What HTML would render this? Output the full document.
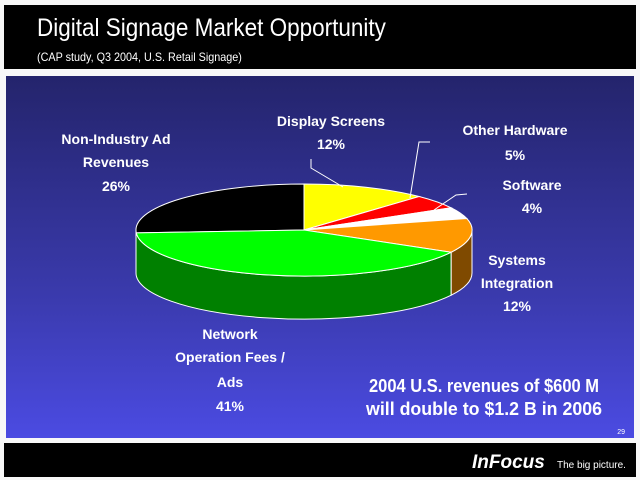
<!DOCTYPE html>
<html><head><meta charset="utf-8"><style>
body{margin:0;width:640px;height:480px;background:#f8f8f8;position:relative;overflow:hidden;font-family:"Liberation Sans",Arial,sans-serif}
.hdr{position:absolute;left:4px;top:5px;width:632px;height:64px;background:#000}
.ttl{position:absolute;left:37px;top:14px;color:#fff;font-size:25px;transform:scaleX(0.9);transform-origin:left}
.sub{position:absolute;left:37px;top:50px;color:#fff;font-size:12px;transform:scaleX(0.9);transform-origin:left}
.panel{position:absolute;left:6px;top:76px;width:628px;height:362px;background:linear-gradient(#24246c,#3a3aac 60%,#4b4be2)}
.ftr{position:absolute;left:4px;top:443px;width:632px;height:34px;background:#000}
svg{position:absolute;left:0;top:0}
.l{font-weight:bold;font-size:14px;fill:#fff;text-anchor:middle}
</style></head><body>
<div class="hdr"></div>
<div class="ttl">Digital Signage Market Opportunity</div>
<div class="sub">(CAP study, Q3 2004, U.S. Retail Signage)</div>
<div class="panel"></div>
<div class="ftr"></div>
<svg width="640" height="480" viewBox="0 0 640 480">
<g stroke="#fff" stroke-width="1">
<path d="M451.2,252.2 A168 46 0 0 1 136,230 L136,273 A168 46 0 0 0 451.2,295.2 Z" fill="#008000"/>
<path d="M472,230 A168 46 0 0 1 451.2,252.2 L451.2,295.2 A168 46 0 0 0 472,273 Z" fill="#7f4a00"/>
<path d="M304,230 L136.3,232.9 A168 46 0 0 1 304,184 Z" fill="#000"/>
<path d="M304,230 L304,184 A168 46 0 0 1 419.1,196.5 Z" fill="#ffff00"/>
<path d="M304,230 L419.1,196.5 A168 46 0 0 1 451.2,207.8 Z" fill="#ff0000"/>
<path d="M304,230 L451.2,207.8 A168 46 0 0 1 466.8,218.5 Z" fill="#ffffff"/>
<path d="M304,230 L466.8,218.5 A168 46 0 0 1 451.2,252.2 Z" fill="#ff9900"/>
<path d="M304,230 L451.2,252.2 A168 46 0 0 1 136.3,232.9 Z" fill="#00ff00"/>
<polyline points="311,159 311,168 343,187" fill="none"/>
<polyline points="430,142 419,142 410,198" fill="none"/>
<polyline points="467,194 456,195 434,210" fill="none"/>
</g>
<g class="l">
<text x="116" y="144">Non-Industry Ad</text>
<text x="116" y="167">Revenues</text>
<text x="116" y="191">26%</text>
<text x="331" y="126">Display Screens</text>
<text x="331" y="149">12%</text>
<text x="515" y="135">Other Hardware</text>
<text x="515" y="160">5%</text>
<text x="532" y="190">Software</text>
<text x="532" y="213">4%</text>
<text x="517" y="265">Systems</text>
<text x="517" y="288">Integration</text>
<text x="517" y="311">12%</text>
<text x="230" y="339">Network</text>
<text x="230" y="362">Operation Fees /</text>
<text x="230" y="387">Ads</text>
<text x="230" y="411">41%</text>
</g>
<text x="484" y="392" fill="#fff" font-size="18" font-weight="bold" text-anchor="middle" textLength="230" lengthAdjust="spacingAndGlyphs">2004 U.S. revenues of $600 M</text>
<text x="484" y="415" fill="#fff" font-size="18" font-weight="bold" text-anchor="middle" textLength="236" lengthAdjust="spacingAndGlyphs">will double to $1.2 B in 2006</text>
<text x="625" y="434" fill="#fff" font-size="7" text-anchor="end">29</text>
<text x="472" y="468" fill="#fff" font-size="19" font-weight="bold" font-style="italic">InFocus</text>
<text x="557" y="468" fill="#fff" font-size="10">The big picture.</text>
</svg>
</body></html>
